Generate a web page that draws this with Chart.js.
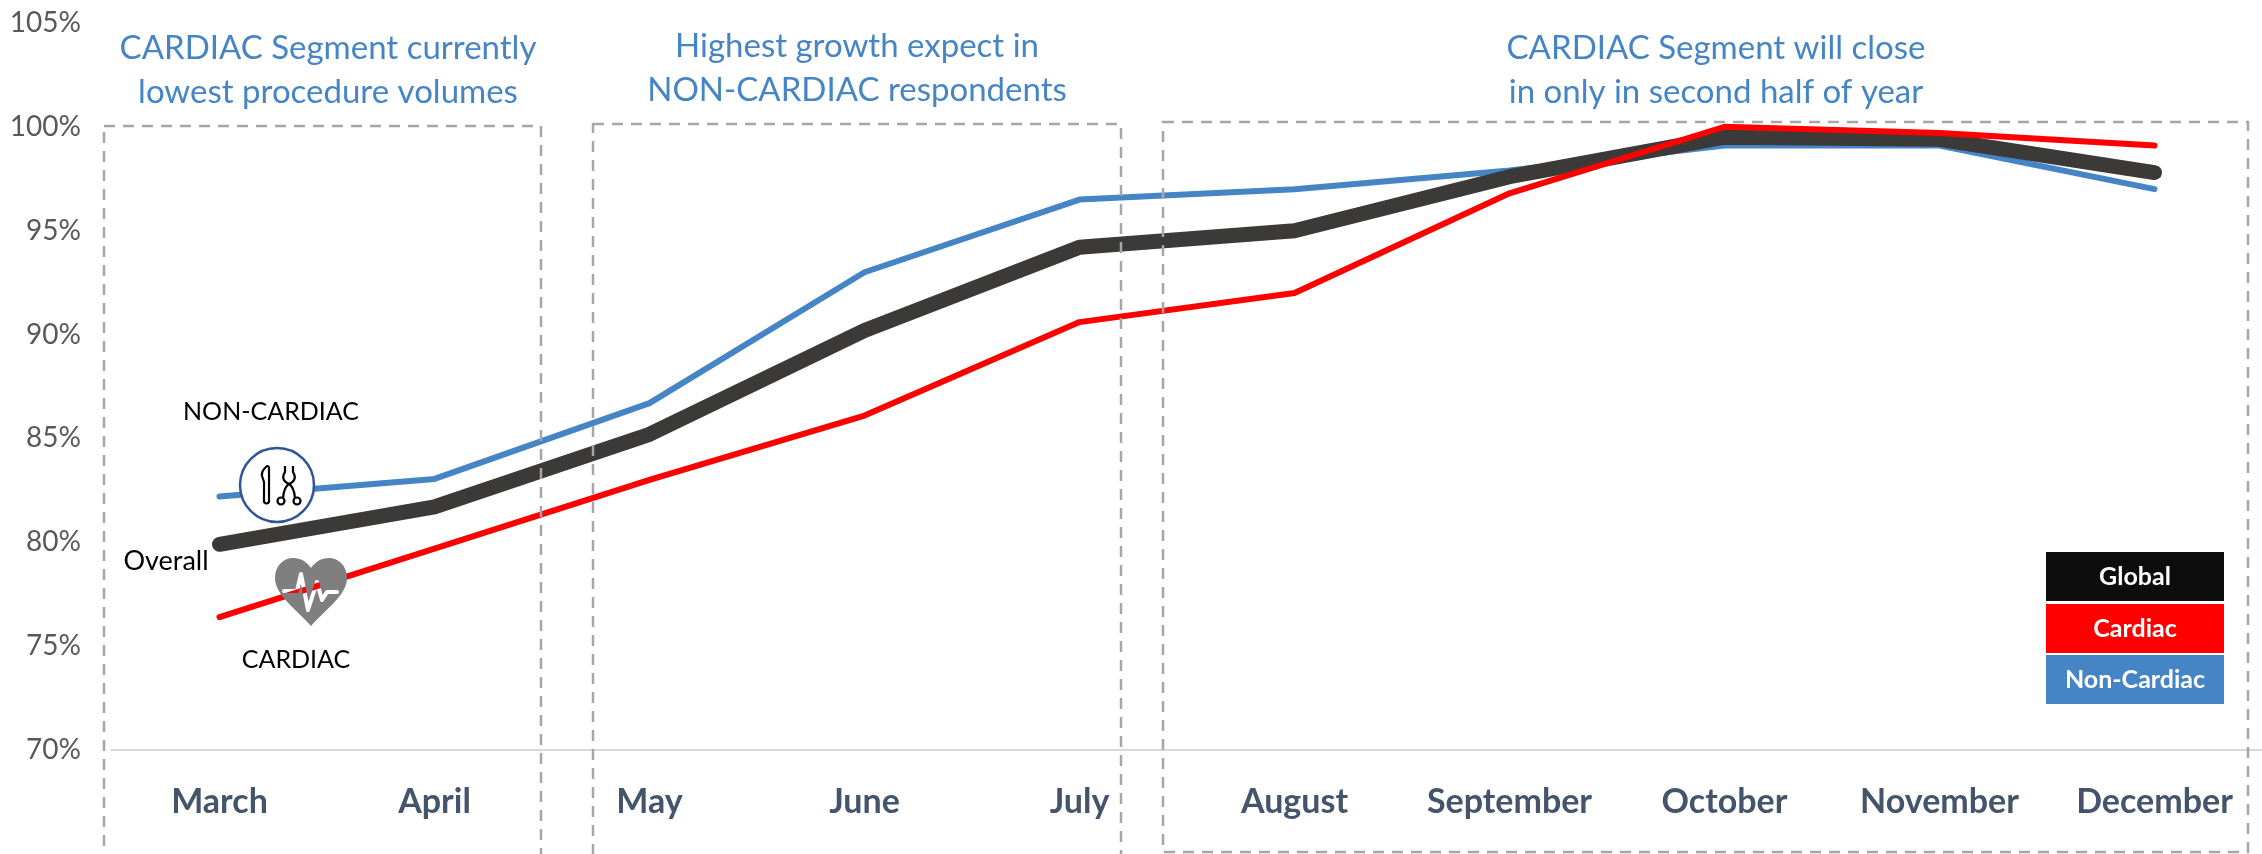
<!DOCTYPE html>
<html>
<head>
<meta charset="utf-8">
<script src="https://cdn.jsdelivr.net/npm/chart.js@4"></script>
<style>
  html, body { margin: 0; padding: 0; background: #fff; }
  #wrap { width: 2262px; height: 854px; overflow: hidden; }
</style>
</head>
<body>
<div id="wrap"><canvas id="myChart" width="2262" height="854"></canvas></div>
<script>
const months = ['March', 'April', 'May', 'June', 'July', 'August', 'September', 'October', 'November', 'December'];
const overall = [79.9, 81.7, 85.2, 90.2, 94.2, 95.0, 97.6, 99.5, 99.4, 97.8];
const cardiac = [76.4, 79.7, 83.0, 86.1, 90.6, 92.0, 96.8, 100.0, 99.7, 99.1];
const nonCardiac = [82.2, 83.05, 86.7, 93.0, 96.5, 97.0, 97.9, 99.1, 99.1, 97.0];
const yTicks = [70, 75, 80, 85, 90, 95, 100, 105];

const BLUE = '#4585C5';
const FONT = 'Lato, Carlito, sans-serif';

// dashed boxes, callouts and the little icons sit on top of the lines
const overlay = {
  id: 'overlay',
  afterDatasetsDraw(chart) {
    const ctx = chart.ctx;
    ctx.save();

    // dashed boxes
    ctx.strokeStyle = '#A6A6A6';
    ctx.lineWidth = 2.5;
    ctx.setLineDash([11, 8]);
    ctx.strokeRect(104, 126, 437, 740);
    ctx.strokeRect(593, 124, 528, 740);
    ctx.strokeRect(1163, 122, 1085, 730);
    ctx.setLineDash([]);

    // callouts
    ctx.textAlign = 'center';
    ctx.textBaseline = 'middle';
    ctx.fillStyle = BLUE;
    ctx.font = '33px ' + FONT;
    ctx.fillText('CARDIAC Segment currently', 328, 48);
    ctx.fillText('lowest procedure volumes', 328, 92);
    ctx.fillText('Highest growth expect in', 857, 46);
    ctx.fillText('NON-CARDIAC respondents', 857, 90);
    ctx.fillText('CARDIAC Segment will close', 1716, 48);
    ctx.fillText('in only in second half of year', 1716, 92);

    // series labels
    ctx.fillStyle = '#000';
    ctx.font = '25px ' + FONT;
    ctx.fillText('NON-CARDIAC', 271, 412);
    ctx.fillText('CARDIAC', 296, 660);
    ctx.font = '27px ' + FONT;
    ctx.fillText('Overall', 166, 561);

    // legend blocks
    const blocks = [['Global', '#0D0D0D', 552], ['Cardiac', '#FF0000', 604], ['Non-Cardiac', BLUE, 655]];
    ctx.font = 'bold 25px ' + FONT;
    blocks.forEach(b => {
      ctx.fillStyle = b[1];
      ctx.fillRect(2046, b[2], 178, 49);
      ctx.fillStyle = '#fff';
      ctx.fillText(b[0], 2135, b[2] + 25);
    });

    drawSurgeryIcon(ctx, 277, 485);
    drawHeartIcon(ctx, 311, 592);
    ctx.restore();
  }
};

function drawSurgeryIcon(ctx, cx, cy) {
  ctx.save();
  ctx.beginPath();
  ctx.arc(cx, cy, 37, 0, Math.PI * 2);
  ctx.fillStyle = '#fff';
  ctx.fill();
  ctx.strokeStyle = '#2F5597';
  ctx.lineWidth = 2.5;
  ctx.stroke();
  ctx.translate(cx, cy);
  ctx.strokeStyle = '#000';
  ctx.lineWidth = 2.2;
  ctx.lineJoin = 'round';
  // scalpel
  ctx.beginPath();
  ctx.moveTo(-10, -19);
  ctx.quadraticCurveTo(-16, -14, -15, -9);
  ctx.lineTo(-13, -3);
  ctx.lineTo(-13, 17);
  ctx.quadraticCurveTo(-10.5, 20, -8, 17);
  ctx.lineTo(-8, -17);
  ctx.quadraticCurveTo(-8, -19, -10, -19);
  ctx.closePath();
  ctx.stroke();
  // forceps
  ctx.beginPath();
  ctx.moveTo(8, -19);
  ctx.lineTo(8, -13);
  ctx.quadraticCurveTo(3, -5, 12, -1);
  ctx.quadraticCurveTo(21, -5, 16, -13);
  ctx.lineTo(16, -19);
  ctx.moveTo(12, -1);
  ctx.quadraticCurveTo(7, 2, 6, 13);
  ctx.moveTo(12, -1);
  ctx.quadraticCurveTo(17, 2, 18, 13);
  ctx.stroke();
  ctx.beginPath();
  ctx.arc(4, 16, 3.5, 0, Math.PI * 2);
  ctx.moveTo(23.5, 16);
  ctx.arc(20, 16, 3.5, 0, Math.PI * 2);
  ctx.stroke();
  ctx.restore();
}

// heart goes on its own canvas so the ECG trace is a real hole and the red line shows through
function drawHeartIcon(ctx, cx, cy) {
  const off = document.createElement('canvas');
  off.width = 90;
  off.height = 90;
  const h = off.getContext('2d');
  h.fillStyle = '#7F7F7F';
  h.beginPath();
  h.moveTo(45, 79);
  h.bezierCurveTo(30, 62, 9, 48, 9, 31);
  h.bezierCurveTo(9, 18, 18, 11, 27, 11);
  h.bezierCurveTo(35, 11, 41, 15, 45, 21);
  h.bezierCurveTo(49, 15, 55, 11, 63, 11);
  h.bezierCurveTo(72, 11, 81, 18, 81, 31);
  h.bezierCurveTo(81, 48, 60, 62, 45, 79);
  h.closePath();
  h.fill();
  h.globalCompositeOperation = 'destination-out';
  h.lineWidth = 4;
  h.lineJoin = 'round';
  h.lineCap = 'round';
  h.beginPath();
  h.moveTo(18, 44);
  h.lineTo(31, 44);
  h.lineTo(35, 27);
  h.lineTo(42, 63);
  h.lineTo(51, 35);
  h.lineTo(56, 53);
  h.lineTo(61, 45);
  h.lineTo(71, 45);
  h.stroke();
  ctx.drawImage(off, cx - 45, cy - 45);
}

new Chart(document.getElementById('myChart'), {
  type: 'line',
  data: {
    labels: months,
    datasets: [
      { label: 'Global', data: overall, borderColor: '#3B3A38', borderWidth: 15, order: 2 },
      { label: 'Cardiac', data: cardiac, borderColor: '#FF0000', borderWidth: 6, order: 1 },
      { label: 'Non-Cardiac', data: nonCardiac, borderColor: BLUE, borderWidth: 6, order: 3 }
    ]
  },
  options: {
    responsive: false,
    animation: false,
    layout: { padding: 0 },
    elements: {
      point: { radius: 0 },
      line: { tension: 0, borderCapStyle: 'round', borderJoinStyle: 'round' }
    },
    plugins: { legend: { display: false }, tooltip: { enabled: false } },
    scales: {
      x: {
        offset: true,
        grid: { display: false, offset: true },
        border: { color: '#D9D9D9', width: 2 },
        ticks: { color: '#44546A', padding: 24, maxRotation: 0, font: { family: FONT, size: 34, weight: 'bold' } },
        afterFit(axis) { axis.height = 104; }
      },
      y: {
        min: 70,
        max: 105,
        afterBuildTicks(axis) { axis.ticks = yTicks.map(v => ({ value: v })); },
        grid: { display: false },
        border: { display: false },
        ticks: { color: '#595959', padding: 23, font: { family: FONT, size: 28 }, callback: v => v + '%' },
        afterFit(axis) { axis.width = 112; axis.paddingTop = 23; }
      }
    }
  },
  plugins: [overlay]
});
</script>
</body>
</html>
